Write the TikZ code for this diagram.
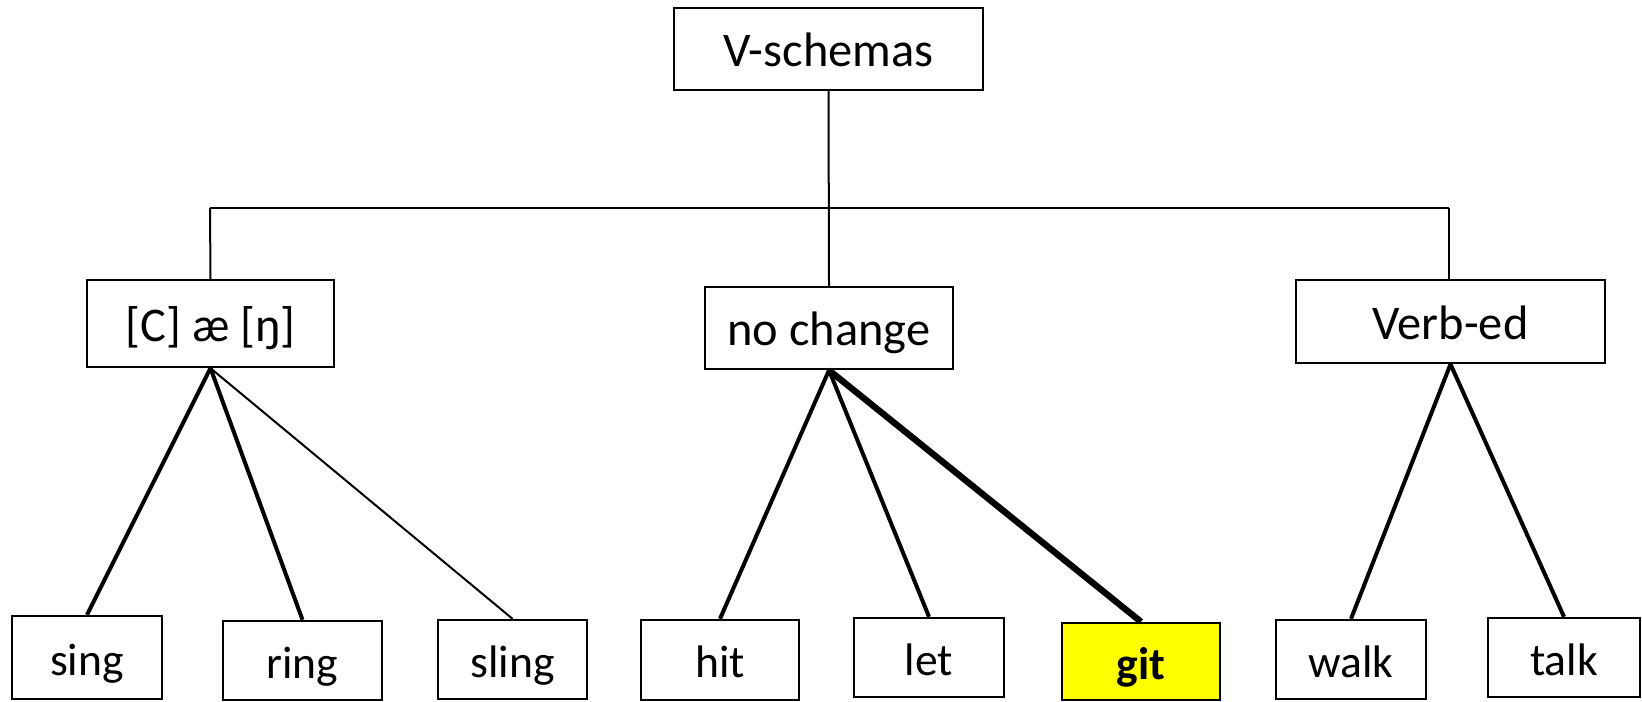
\documentclass[tikz,border=0pt]{standalone}
\usepackage{fontspec}
\setmainfont{Carlito}
\definecolor{hiyellow}{RGB}{255,255,0}
\begin{document}
\begin{tikzpicture}[x=0.5pt,y=-0.5pt,
  box/.style={draw=black,line width=1.2pt,rectangle,inner sep=0pt,
    text height=17.5pt,text depth=0pt,fill=white},
  head/.style={box,font=\fontsize{24.2}{29}\selectfont},
  leaf/.style={box,font=\fontsize{22.8}{27}\selectfont},
  thin/.style={line width=1pt},
  branch/.style={line width=2pt},
  heavy/.style={line width=3.2pt}]
\useasboundingbox (0,0) rectangle (1642,701);

% top of the hierarchy and the three schemas
\node[head,minimum width=154.5pt,minimum height=41pt] (root) at (828.5,49) {V-schemas};
\node[head,minimum width=123.5pt,minimum height=43.5pt] (ang) at (210.5,323.5) {[C] æ [ŋ]};
\node[head,minimum width=124pt,minimum height=41pt] (noch) at (829,328) {no change};
\node[head,minimum width=154.5pt,minimum height=41.5pt] (ved) at (1450.5,321.5) {Verb-ed};

% individual verbs
\node[leaf,minimum width=75pt,minimum height=41.5pt] (sing) at (87,657.5) {sing};
\node[leaf,minimum width=79.5pt,minimum height=39.5pt] (ring) at (302.5,660.5) {ring};
\node[leaf,minimum width=74.5pt,minimum height=39.5pt] (sling) at (512.5,659.5) {sling};
\node[leaf,minimum width=79pt,minimum height=40pt] (hit) at (720,660) {hit};
\node[leaf,minimum width=75pt,minimum height=39.5pt] (let) at (929,657.5) {let};
\node[leaf,minimum width=79pt,minimum height=38.5pt,fill=hiyellow,font=\fontsize{22.8}{27}\selectfont\bfseries] (git) at (1141,661.5) {git};
\node[leaf,minimum width=75pt,minimum height=39.5pt] (walk) at (1351,659.5) {walk};
\node[leaf,minimum width=76pt,minimum height=39.5pt] (talk) at (1564,657.5) {talk};

% bracket joining the root to the schemas
\coordinate (barL) at (210,208);
\coordinate (barR) at (1449,208);
\draw[thin] (root.south) -- (noch.north);
\draw[thin] (barL) -- (barR);
\draw[thin] (barL) -- (ang.north);
\draw[thin] (barR) -- (barR |- ved.north);

% schema-to-verb links
\draw[branch] (ang.south) -- (sing.north);
\draw[branch] (ang.south) -- (ring.north);
\draw[thin] (ang.south) -- (sling.north);
\draw[branch] (noch.south) -- (hit.north);
\draw[branch] (noch.south) -- (let.north);
\draw[heavy] (noch.south) -- (git.north);
\draw[branch] (ved.south) -- (walk.north);
\draw[branch] (ved.south) -- (talk.north);
\end{tikzpicture}
\end{document}
